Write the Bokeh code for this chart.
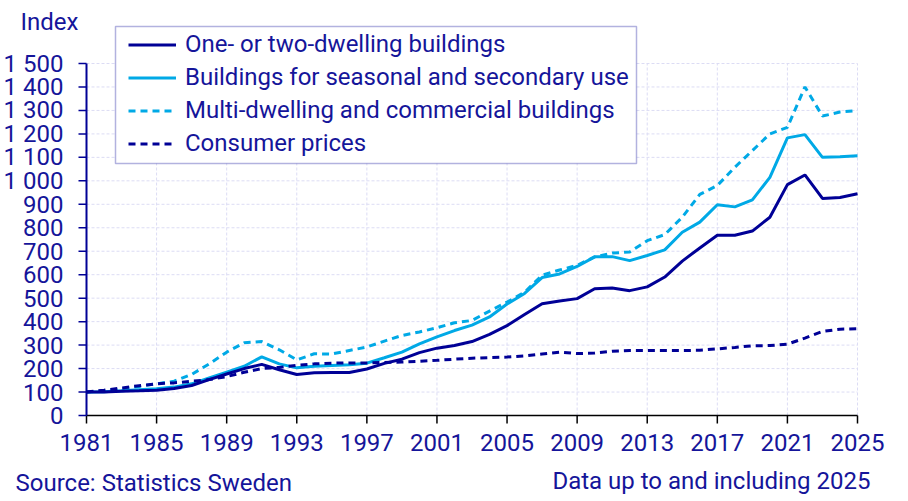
from bokeh.plotting import figure
from bokeh.models import ColumnDataSource, Legend, LegendItem, Label, Range1d, BoxAnnotation
from bokeh.core.properties import value
from bokeh.embed import file_html
from bokeh.resources import INLINE
import math

# Construction price index series, 1981 = 100
years = list(range(1981, 2026))
one_two_dwelling = [100, 100, 103, 105, 108, 115, 128, 153, 177, 200,
                    218, 195, 175, 182, 183, 183, 198, 222, 240, 268,
                    287, 298, 315, 346, 383, 430, 476, 488, 498, 540,
                    543, 532, 548, 590, 658, 714, 768, 768, 786, 845,
                    984, 1025, 925, 929, 945]
seasonal_secondary = [100, 101, 105, 110, 114, 121, 135, 160, 185, 210,
                      250, 220, 203, 210, 213, 216, 223, 246, 270, 305,
                      335, 362, 385, 420, 475, 520, 588, 603, 635, 676,
                      677, 660, 682, 706, 781, 824, 898, 889, 919, 1015,
                      1183, 1197, 1100, 1103, 1107]
multi_commercial = [100, 105, 113, 124, 135, 146, 175, 220, 270, 310,
                    315, 280, 237, 263, 262, 277, 292, 317, 341, 356,
                    374, 395, 405, 445, 483, 525, 598, 620, 640, 676,
                    692, 697, 745, 771, 845, 942, 980, 1058, 1129, 1200,
                    1228, 1400, 1276, 1293, 1300]
consumer_prices = [100, 108, 117, 127, 135, 139, 146, 153, 166, 184,
                   200, 205, 214, 220, 223, 224, 224, 226, 228, 231,
                   235, 240, 244, 247, 249, 254, 262, 270, 264, 266,
                   274, 277, 277, 277, 277, 278, 284, 290, 297, 298,
                   304, 330, 358, 368, 370]

series_names = ["One- or two-dwelling buildings",
                "Buildings for seasonal and secondary use",
                "Multi-dwelling and commercial buildings",
                "Consumer prices"]
x_ticks = list(range(1981, 2026, 4))
y_ticks = list(range(0, 1600, 100))
x_tick_labels = [str(t) for t in x_ticks]
y_tick_labels = [f"{t // 1000} {t % 1000:03d}" if t >= 1000 else str(t) for t in y_ticks]

# page geometry (pixels)
W, H = 908, 501
PLOT_L, PLOT_R, PLOT_T, PLOT_B = 86, 857, 63, 415
LEG_L, LEG_R, LEG_T, LEG_B = 115, 636, 26, 163

NAVY = "#000096"
LIGHT = "#00a9e6"
TEXT = "#15159a"
GRID = "#dcdcf4"
FONT = "Roboto"
FS = "24px"

# the frame covers the whole canvas; the data box sits inside it
x0, x1 = x_ticks[0], x_ticks[-1]
y0, y1 = y_ticks[0], y_ticks[-1]
kx = (PLOT_R - PLOT_L) / (x1 - x0)
ky = (PLOT_B - PLOT_T) / (y1 - y0)
x_range = Range1d(x0 - PLOT_L / kx, x1 + (W - PLOT_R) / kx)
y_range = Range1d(y0 - (H - PLOT_B) / ky, y1 + PLOT_T / ky)

p = figure(width=W, height=H, output_backend="svg", toolbar_location=None,
           x_range=x_range, y_range=y_range,
           x_axis_location=None, y_axis_location=None,
           min_border=0)
p.outline_line_color = None
p.xgrid.visible = False
p.ygrid.visible = False

# grid lines
xg = x_ticks[1:]
p.segment(x0=xg, x1=xg, y0=[y0] * len(xg), y1=[y1] * len(xg),
          line_color=GRID, line_width=1, line_dash="3 2")
yg = y_ticks[1:]
p.segment(x0=[x0] * len(yg), x1=[x1] * len(yg), y0=yg, y1=yg,
          line_color=GRID, line_width=1, line_dash="3 2")

# series
src = ColumnDataSource(dict(year=years, one=one_two_dwelling, seas=seasonal_secondary,
                            multi=multi_commercial, cpi=consumer_prices))
r3 = p.line("year", "multi", source=src, line_color=LIGHT, line_width=3,
            line_dash="7 5")
r2 = p.line("year", "seas", source=src, line_color=LIGHT, line_width=3)
r4 = p.line("year", "cpi", source=src, line_color=NAVY, line_width=3,
            line_dash="7 5")
r1 = p.line("year", "one", source=src, line_color=NAVY, line_width=3)

# x axis: line, ticks, labels
p.segment(x0=[x0], x1=[x1], y0=[y0], y1=[y0], line_color="black", line_width=1.5)
p.ray(x=x_ticks, y=[y0] * len(x_ticks), length=8, length_units="screen",
      angle=-math.pi / 2, line_color="black", line_width=1.5)
p.text(x=x_ticks, y=[y0] * len(x_ticks), text=x_tick_labels, y_offset=27,
       text_align="center", text_baseline="middle", text_color=TEXT,
       text_font=value(FONT), text_font_size=value(FS))

# y axis: line, ticks, labels
p.segment(x0=[x0], x1=[x0], y0=[y0], y1=[y1], line_color=NAVY, line_width=2)
p.ray(x=[x0] * len(y_ticks), y=y_ticks, length=8, length_units="screen",
      angle=math.pi, line_color=NAVY, line_width=1.5)
p.text(x=[x0] * len(y_ticks), y=y_ticks, text=y_tick_labels, x_offset=-23,
       text_align="right", text_baseline="middle", text_color=TEXT,
       text_font=value(FONT), text_font_size=value(FS))

# legend frame, then the legend entries on top of it
p.add_layout(BoxAnnotation(left=LEG_L, right=LEG_R, top=H - LEG_T, bottom=H - LEG_B,
                           left_units="screen", right_units="screen",
                           top_units="screen", bottom_units="screen",
                           fill_color="white", fill_alpha=1,
                           line_color=NAVY, line_width=1.5))
legend = Legend(items=[LegendItem(label=series_names[0], renderers=[r1]),
                       LegendItem(label=series_names[1], renderers=[r2]),
                       LegendItem(label=series_names[2], renderers=[r3]),
                       LegendItem(label=series_names[3], renderers=[r4])],
                location=(LEG_L + 13, H - 157.5))
legend.label_text_font = FONT
legend.label_text_font_size = FS
legend.label_text_color = TEXT
legend.glyph_width = 48
legend.glyph_height = 29
legend.label_height = 29
legend.label_standoff = 9
legend.spacing = 4
legend.padding = 0
legend.margin = 0
legend.border_line_color = None
legend.background_fill_alpha = 0
p.add_layout(legend, "center")

# texts around the plot
p.add_layout(Label(x=20, y=H - 21, x_units="screen", y_units="screen", text="Index",
                   text_font=FONT, text_font_size=FS, text_color=TEXT,
                   text_baseline="middle"))
p.add_layout(Label(x=15, y=19, x_units="screen", y_units="screen",
                   text="Source: Statistics Sweden",
                   text_font=FONT, text_font_size=FS, text_color=TEXT,
                   text_baseline="middle"))
p.add_layout(Label(x=870, y=21, x_units="screen", y_units="screen",
                   text="Data up to and including 2025",
                   text_font=FONT, text_font_size=FS, text_color=TEXT,
                   text_baseline="middle", text_align="right"))

open("out.html", "w").write(file_html(p, INLINE))
